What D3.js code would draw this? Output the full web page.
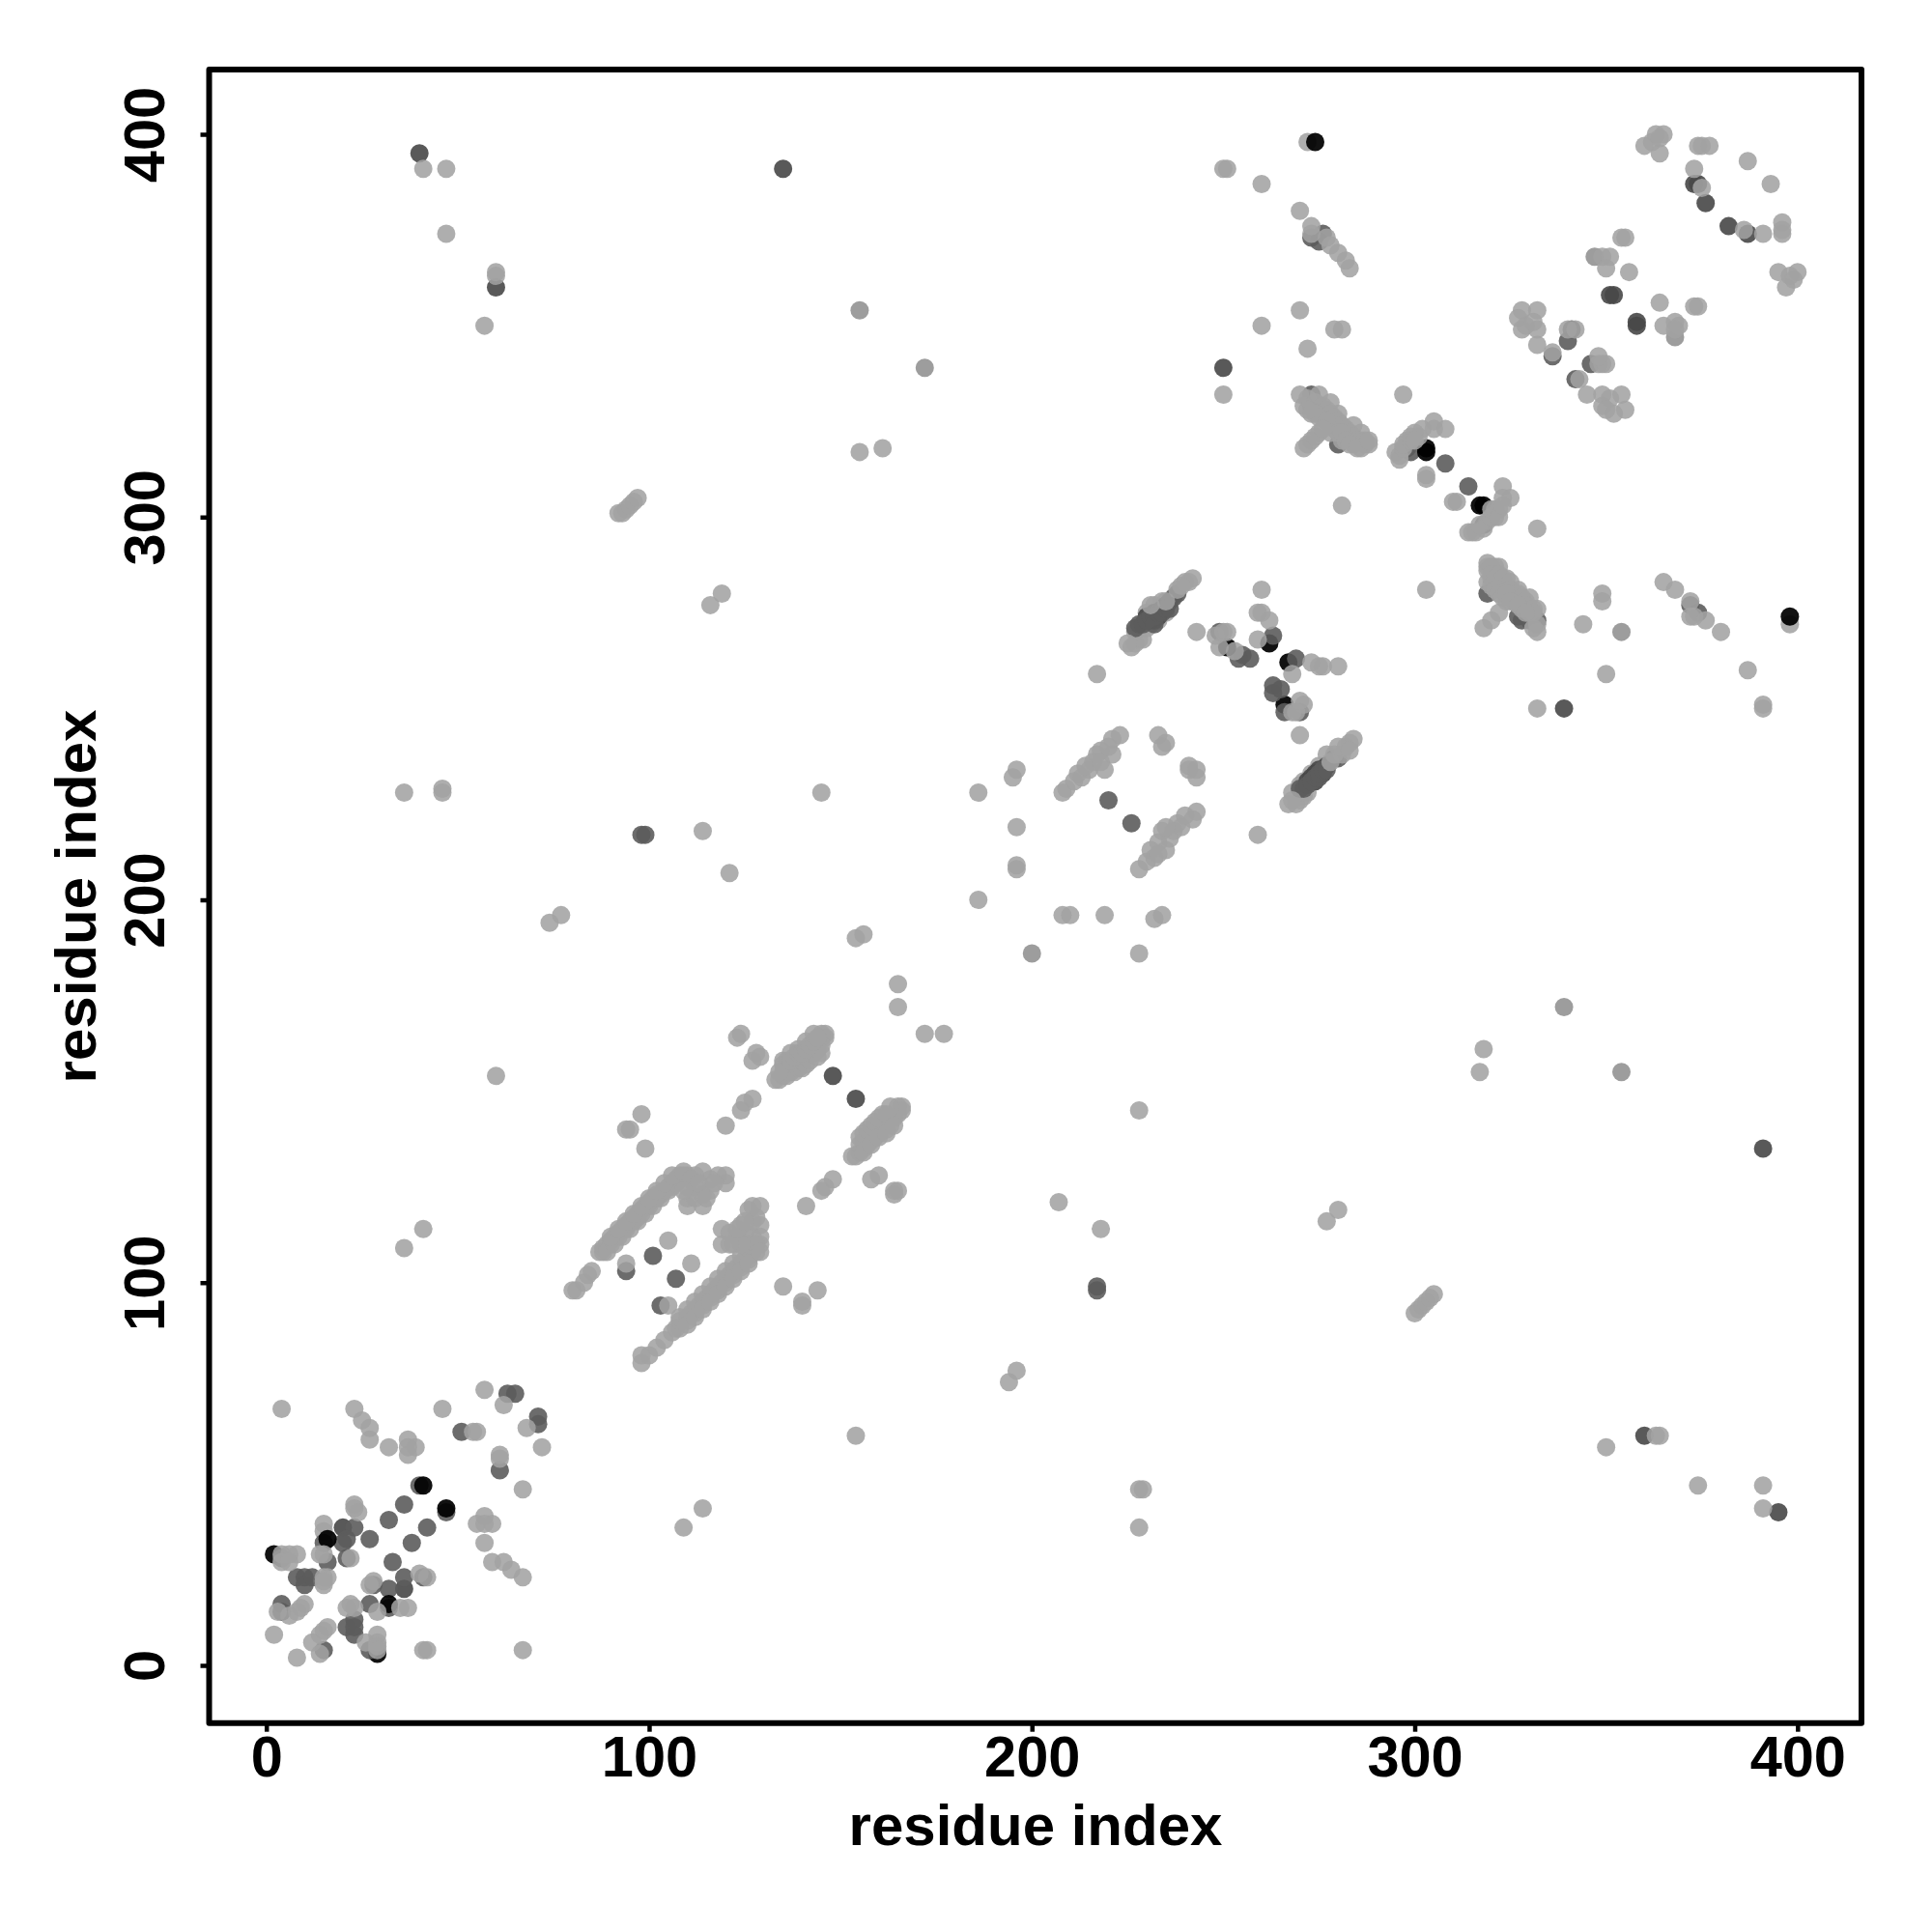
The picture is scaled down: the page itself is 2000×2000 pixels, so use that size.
<!DOCTYPE html>
<html><head><meta charset="utf-8">
<script src="https://cdn.jsdelivr.net/npm/d3@7"></script>
<style>html,body{margin:0;background:#fff}svg{display:block}</style></head>
<body><svg id="c" width="2000" height="2000"></svg>
<script>
const xTicks=[0,100,200,300,400], yTicks=[0,100,200,300,400];
const xTitle="residue index", yTitle="residue index";

const lightBack=[[398,272],[272,398],[15,37],[15,35],[226,266],[227,267],[228,268],[229,268],[227,270],[228,271],[230,271],[231,272],[233,273],[235,275],[230,275],[232,277],[234,278],[269,225],[270,226],[271,227],[272,228],[268,228],[270,230],[271,231],[273,233],[275,235],[271,229],[277,238],
[319,287],[320,284],[322,283],[324,281],[326,280],[328,278],[330,276]];
const blackBack=[[29,3],[2,29],[262,267],[267,262],[317,303],[318,303],[266,251]];
const grayB=[[155,354],[172,339],[339,172],[354,155],[354,270],[200,186],[347,368],[368,347]];
const darker=[[20,36],[36,20],[148,154],[154,148],[351,358],[352,358],[358,351],[358,350],[339,250],[135,391],[40,395],[60,360],[250,339],[387,374],[376,382],[382,376],[373,387],[374,387],[360,60],[395,40],[391,135],[230,274],[232,275],[233,274],[234,276],[235,277],[231,273],[232,273],[272,231],[274,233],[273,232],[274,231],[275,234],[276,233],[277,235]];
const mid=[[63,71],[65,71],[71,65],[71,63],[51,61],[61,51],[40,47],[47,40],[36,42],[32,38],[42,36],[38,32],[27,33],[33,27],[23,36],[15,32],[20,32],[21,33],[16,27],[21,28],[4,28],[8,23],[10,23],[10,21],[12,23],[28,21],[32,20],[36,23],[41,23],[27,16],[32,15],[4,14],[4,16],[23,12],[21,10],[23,8],[23,10],[15,4],[27,4],
[101,107],[94,103],[107,101],[103,94],[98,217],[99,217],[217,99],[217,98],[220,226],[226,220],
[227,271],[228,272],[229,272],[230,273],[231,274],[232,274],[232,272],[233,275],[234,275],[235,276],[236,276],[236,278],[237,279],[238,280],
[249,270],[255,264],[257,263],[254,263],[263,269],[269,263],[263,256],[263,254],[265,255],[266,249],[270,249],
[270,229],[271,229],[272,230],[273,231],[274,232],[275,232],[275,233],[276,234],[277,234],[279,237],[280,237],
[273,332],[273,329],[274,328],[280,319],[298,318],[299,317],[308,314],[314,308],[318,298],[319,280],[327,274],[328,273],[330,273],[332,273],
[372,277],[374,275],[273,373],[276,374],[275,372],[336,342],[341,349],[340,346],[346,340],[342,336]];
const blackFront=[[41,47],[47,41],[16,33],[32,16],[251,266],[303,318],[303,317],[274,398],[398,274]];
const light=[
[4,67],[23,67],[25,64],[27,62],[27,59],[32,57],[37,59],[39,57],[37,55],[37,57],[46,67],[57,72],[62,68],[68,62],[72,57],[54,61],[55,61],[61,55],[61,54],[67,46],[23,42],[23,41],[24,40],[57,39],[55,37],[59,37],[57,37],[57,32],[59,27],[62,27],[64,25],[67,23],[14,29],[15,29],[22,28],[4,29],[6,29],[8,29],[4,27],[6,27],[15,23],[15,21],[16,23],[15,22],[28,22],[27,21],[40,24],[42,23],[29,14],[35,15],[37,15],[22,16],[21,15],[23,15],[3,14],[10,16],[9,15],[8,14],[6,13],[2,8],[16,10],[15,9],[14,8],[12,6],[14,3],[8,2],[29,8],[26,6],[29,6],[29,5],[29,4],[41,4],[42,4],[67,4],
[80,98],[81,98],[83,100],[84,102],[85,103],[87,108],[88,108],[88,109],[89,110],[90,110],[90,111],[91,112],[92,112],[92,113],[93,114],[94,114],[94,115],[95,116],[96,116],[96,117],[97,117],[97,118],[98,118],[98,119],[99,120],[100,120],[100,121],[101,122],[102,122],[102,123],[103,123],[104,124],[105,125],[106,125],[106,126],[107,127],[108,127],[108,128],[109,128],[110,128],
[89,108],[91,110],[93,112],[95,114],[97,116],[99,118],[101,120],[103,122],[105,124],[107,126],[90,112],[92,114],[94,116],[96,118],[98,120],[100,122],[102,124],[104,126],[106,128],
[109,129],[114,129],[120,128],[118,128],[110,120],[114,120],[110,122],[112,125],[116,127],[114,123],[112,128],[110,125],[120,126],[112,122],[116,124],[111,127],[113,126],[109,124],[115,122],[117,126],
[98,79],[98,81],[100,81],[102,83],[104,85],[106,87],[107,88],[108,88],[108,90],[110,90],[110,91],[111,92],[112,92],[112,93],[113,94],[114,94],[114,95],[115,96],[116,96],[116,97],[117,98],[118,98],[118,99],[119,100],[120,100],[120,101],[121,102],[122,102],[122,103],[123,104],[124,104],[124,105],[125,106],[126,106],[126,107],[127,108],[128,108],[129,110],[129,112],
[108,91],[110,93],[112,95],[114,97],[116,99],[118,101],[120,103],[122,105],[124,107],[126,109],[110,89],[112,91],[114,93],[116,95],[118,97],[120,99],[122,101],[124,103],[126,105],
[119,110],[119,114],[121,113],[123,112],[125,113],[126,110],[127,112],[129,115],[127,116],[124,115],[127,120],[129,120],[126,119],[128,117],[128,110],[129,108],[122,110],[124,110],[121,110],[123,114],[125,116],
[98,144],[94,140],[95,140],[99,135],[105,111],[94,105],[111,105],[105,94],[135,99],[144,98],[140,95],[140,94],
[120,141],[124,145],[127,148],[125,147],[133,153],[134,153],[135,154],[135,155],[136,154],[137,155],[137,156],[138,155],[138,157],[139,156],[139,158],[140,156],[140,158],[141,157],[141,159],[142,158],[142,160],[143,160],[144,159],[144,161],[144,163],[145,164],[145,165],[146,164],[146,165],[145,162],[145,160],
[135,157],[135,158],[136,158],[134,155],[137,158],[137,160],[138,159],[139,160],[139,161],[140,160],[141,161],[141,163],[142,162],[143,163],[143,165],[144,164],
[123,164],[124,165],[128,160],[127,158],[129,159],[141,120],[145,124],[146,125],[148,127],
[153,133],[154,133],[155,134],[155,136],[156,135],[156,137],[157,136],[157,138],[158,137],[158,139],[159,138],[159,140],[160,139],[160,140],[161,141],[162,140],[162,142],[163,141],[163,143],[164,143],[165,144],[165,146],[166,145],[166,146],[163,146],[161,144],
[155,138],[156,139],[157,140],[158,141],[159,142],[160,143],[162,144],[156,134],[158,136],[160,138],[162,139],[164,141],
[158,127],[160,128],[164,124],[164,123],[165,124],[165,178],[165,172],[172,165],[177,165],
[41,391],[47,391],[47,374],[60,363],[60,364],[57,350],[155,317],[161,318],[92,301],[93,301],[94,302],[95,303],[96,304],[97,305],[116,277],[119,280],[36,228],[46,229],[46,228],[114,218],[121,207],[74,194],[77,196],[145,228],[154,190],[156,191],[60,154],[36,109],[41,114],[109,36],[114,41],[154,60],[194,74],[196,77],[207,121],[218,114],[228,145],[228,46],[229,46],[228,36],[277,116],[280,119],[300,92],[301,93],[302,94],[303,95],[304,96],[305,97],[317,155],[318,161],[350,57],[363,60],[364,60],[374,47],[391,47],[391,41],
[196,234],[195,232],[196,219],[196,209],[196,208],[208,228],[209,229],[211,231],[212,233],[215,234],[217,238],[218,239],[221,242],[223,243],[219,234],[221,238],[216,236],[213,232],[214,235],[218,236],[220,240],
[233,243],[235,241],[234,240],[241,235],[243,232],[241,234],[243,234],[228,208],[230,210],[232,211],[233,215],[234,218],[237,218],[238,220],[243,223],[242,221],[235,213],[231,213],[233,212],[236,216],[239,219],[235,219],[240,222],
[208,196],[210,196],[219,196],[232,195],[234,196],[186,200],[186,228],[228,186],
[225,267],[231,277],[235,278],[238,281],[240,283],[242,284],[241,283],[239,282],[243,270],[217,259],
[250,270],[248,269],[251,270],[249,266],[253,265],[260,281],[259,275],[260,275],[262,273],[259,268],[268,259],[273,262],[275,261],[280,261],[276,261],[271,251],[268,249],[269,249],[270,243],[270,252],
[267,225],[268,226],[278,236],[281,238],[282,240],[283,241],[284,242],[279,238],[280,240],[283,239],[259,217],
[270,332],[275,332],[278,330],[280,327],[284,324],[286,322],[287,319],[288,319],[271,318],[273,320],[275,322],[278,324],[281,320],[271,329],[273,327],[276,326],[279,323],[283,321],[286,318],[284,319],[297,332],[281,303],
[272,331],[274,330],[276,329],[277,328],[278,327],[279,326],[280,325],[281,324],[282,323],[283,322],[284,321],[285,320],[286,320],[287,320],[274,327],[275,326],[277,325],[278,322],[280,322],[281,322],[282,320],[283,319],[285,318],[272,328],[288,320],[272,319],[274,321],[276,323],
[296,315],[295,317],[298,320],[300,322],[302,323],[305,325],[308,323],[305,323],[303,311],[303,310],[310,304],[311,304],[296,316],[297,318],[297,319],[299,320],[299,321],[301,321],[300,320],
[314,296],[316,296],[318,297],[319,299],[321,300],[322,302],[325,305],[323,308],[323,305],[332,297],[315,296],[317,298],[320,300],[320,302],[321,302],[322,300],[323,303],
[319,288],[319,286],[321,287],[322,287],[319,283],[324,284],[327,281],[330,279],[332,276],[332,270],[332,272],[318,271],[320,273],[322,275],[324,278],[323,282],[326,278],[328,276],[330,275],[303,281],[349,280],[349,278],[344,272],[350,259],
[320,287],[320,285],[321,284],[322,285],[323,284],[325,283],[325,281],[327,280],[328,279],[329,278],[329,277],[331,276],[331,275],[320,282],[321,281],[322,280],[323,279],[324,280],[325,278],[327,277],[329,275],[331,271],
[332,250],[391,251],[391,250],[387,260],[365,283],[368,281],[372,278],[373,274],[372,274],[376,273],[380,270],
[250,391],[251,391],[260,387],[270,380],[273,376],[273,374],[277,373],[278,371],[280,369],[282,367],[283,365],[270,354],[260,350],[272,344],[279,349],[281,349],[250,332],
[328,354],[332,354],[327,352],[329,350],[332,349],[328,349],[331,351],[332,345],[336,343],[340,349],[342,349],[348,340],[349,340],[350,340],[348,342],[343,336],[345,332],[349,332],[354,332],[351,331],[349,329],[352,327],[355,328],[350,328],[355,373],[354,373],[349,368],[351,368],[350,365],[356,364],[364,356],[373,355],[374,355],[365,350],[368,351],[369,350],[368,349],
[363,400],[365,400],[360,397],[362,398],[364,395],[364,399],[374,397],[375,397],[377,397],[387,393],[393,387],[373,391],[375,386],[386,375],[391,374],[396,377],[396,374],[396,375],[395,364],[400,364],[399,362],[397,360],[398,363]
];

const layers=[
 {pts:lightBack,fill:"#a2a2a2",op:0.87},
 {pts:blackBack,fill:"#000000",op:0.93},
 {pts:grayB,fill:"#8e8e8e",op:0.87},
 {pts:darker,fill:"#474747",op:0.9},
 {pts:mid,fill:"#5c5c5c",op:0.9},
 {pts:blackFront,fill:"#000000",op:0.93},
 {pts:light,fill:"#a2a2a2",op:0.87}
];

const svg=d3.select("#c");
const x=d3.scaleLinear().domain([0,400]).range([275.7,1860.8]);
const y=d3.scaleLinear().domain([0,400]).range([1724,139]);
const left=216.5,right=1927,top_=72,bottom=1783.7,font='"Liberation Sans",Arial,sans-serif';

const g=svg.append("g");
layers.forEach(l=>{
  g.selectAll(null).data(l.pts).enter().append("circle")
   .attr("cx",d=>x(d[0])).attr("cy",d=>y(d[1])).attr("r",9.5)
   .attr("fill",l.fill).attr("fill-opacity",l.op);
});

svg.append("rect").attr("x",left).attr("y",top_).attr("width",right-left).attr("height",bottom-top_)
  .attr("fill","none").attr("stroke","#000").attr("stroke-width",6).attr("stroke-linejoin","round");

const ax=svg.append("g").attr("transform",`translate(0,${bottom})`)
  .call(d3.axisBottom(x).tickValues(xTicks).tickSize(9).tickPadding(0).tickFormat(d3.format("d")));
const ay=svg.append("g").attr("transform",`translate(${left},0)`)
  .call(d3.axisLeft(y).tickValues(yTicks).tickSize(9).tickPadding(0).tickFormat(d3.format("d")));
[ax,ay].forEach(a=>{
  a.select(".domain").remove();
  a.selectAll("line").attr("stroke","#000").attr("stroke-width",4.5);
  a.selectAll("text").attr("fill","#000").style("font-family",font).style("font-weight","bold").style("font-size","59.5px");
});
ax.selectAll("text").attr("y",0).attr("dy",0).attr("transform","translate(0,55)").attr("text-anchor","middle");
ay.selectAll("text").attr("x",0).attr("dy",0).attr("text-anchor","middle")
  .attr("transform","translate(-46.5,0) rotate(-90)");

svg.append("text").attr("x",1072).attr("y",1910).attr("text-anchor","middle")
  .style("font-family",font).style("font-weight","bold").style("font-size","60px").text(xTitle);
svg.append("text").attr("transform","translate(99,928) rotate(-90)").attr("text-anchor","middle")
  .style("font-family",font).style("font-weight","bold").style("font-size","60px").text(yTitle);
</script></body></html>
